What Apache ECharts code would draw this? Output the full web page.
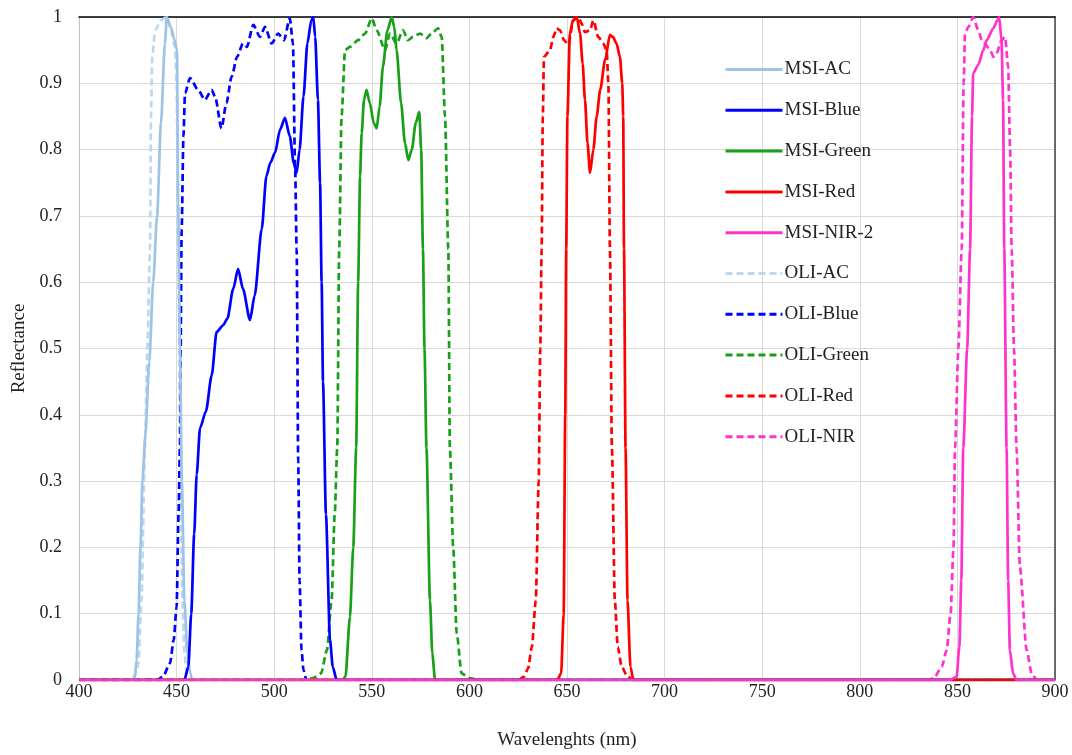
<!DOCTYPE html>
<html>
<head>
<meta charset="utf-8">
<script src="https://cdn.jsdelivr.net/npm/echarts@6/dist/echarts.min.js"></script>
<style>html,body{margin:0;padding:0;background:#fff}#c{width:1072px;height:755px}</style>
</head>
<body>
<div id="c"></div>
<script>
// Tick settings
const xTicks = [400, 450, 500, 550, 600, 650, 700, 750, 800, 850, 900];
const yTicks = [0, 0.1, 0.2, 0.3, 0.4, 0.5, 0.6, 0.7, 0.8, 0.9, 1];

// [wavelength nm, relative response]
const msiAC = [[400,0],[428.5,0],[429.5,0.03],[430.5,0.1],[431.5,0.2],[432.5,0.3],[434,0.37],[436,0.48],[438,0.6],[440,0.7],[442,0.84],[444,0.96],[445,1.0],[447,0.985],[449,0.965],[450.2,0.95],[450.8,0.72],[451.7,0.5],[452.7,0.3],[454,0.12],[455.5,0.04],[457,0.01],[458,0],[900,0]];
const msiBlue = [[400,0],[454,0],[456,0.02],[457.5,0.1],[459,0.22],[460.3,0.31],[462,0.38],[465,0.405],[468,0.46],[470.5,0.525],[473.8,0.535],[476,0.545],[479,0.59],[481.5,0.62],[484,0.59],[487.6,0.543],[490,0.58],[493.6,0.68],[496,0.76],[498,0.78],[500.4,0.795],[503,0.83],[505.5,0.848],[508,0.82],[510,0.78],[511.5,0.765],[513,0.8],[515,0.88],[517,0.96],[519,0.995],[520,1.0],[521,0.97],[522.4,0.875],[523.5,0.75],[524.3,0.6],[525,0.45],[526.5,0.25],[528.6,0.06],[530,0.02],[532,0],[900,0]];
const msiGreen = [[400,0],[535,0],[536.5,0.005],[538.8,0.095],[540.5,0.2],[542,0.35],[543,0.6],[544,0.76],[544.8,0.825],[546,0.875],[547.3,0.89],[549,0.87],[551,0.84],[552.5,0.832],[554,0.865],[555.7,0.925],[558,0.98],[560.2,1.0],[561.5,0.985],[562.7,0.95],[565,0.87],[567,0.81],[568.7,0.784],[570.5,0.8],[572.5,0.84],[574.3,0.857],[575.3,0.8],[576.2,0.65],[577,0.5],[578,0.35],[579.8,0.12],[581,0.04],[582.4,0],[900,0]];
const msiRed = [[400,0],[645,0],[647,0.01],[648.3,0.1],[649.1,0.4],[649.6,0.65],[650.2,0.85],[651.5,0.975],[653,0.995],[655,1.0],[656.7,0.975],[658,0.93],[659.2,0.875],[660.5,0.81],[661.8,0.765],[663.5,0.8],[665.2,0.85],[667,0.89],[669.5,0.935],[672,0.973],[673.5,0.97],[675.4,0.96],[677.1,0.94],[678.3,0.9],[678.8,0.85],[679.2,0.65],[680,0.35],[681,0.12],[682.5,0.02],[684,0],[900,0]];
const msiNir2 = [[400,0],[846,0],[849.6,0.005],[851,0.05],[852,0.15],[853,0.35],[855,0.5],[856.5,0.65],[857.5,0.85],[858.1,0.915],[860.7,0.928],[863.3,0.95],[865,0.965],[868.4,0.983],[870.5,0.995],[871.4,1.0],[872.6,0.965],[873.4,0.875],[874,0.65],[875.2,0.35],[876,0.15],[876.9,0.045],[878.5,0.01],[880.3,0],[900,0]];
const oliAC = [[400,0],[427,0],[429,0.01],[430.4,0.025],[432,0.12],[433.8,0.35],[435,0.5],[436.4,0.65],[436.9,0.85],[437.5,0.94],[439,0.98],[442,0.995],[445,1.0],[447,0.98],[449.2,0.955],[450,0.9],[450.8,0.65],[451.8,0.35],[453,0.12],[454,0.04],[455.5,0],[900,0]];
const oliBlue = [[400,0],[440,0],[443,0.005],[446.6,0.025],[448.5,0.06],[450,0.11],[451,0.25],[451.7,0.35],[452.6,0.68],[453.5,0.82],[454.3,0.885],[456.9,0.908],[461,0.89],[464.5,0.875],[467.9,0.89],[469.7,0.88],[473,0.832],[475.5,0.87],[478.2,0.91],[481,0.94],[484,0.96],[486,0.955],[489.3,0.988],[492.7,0.97],[495.3,0.985],[498.7,0.96],[502,0.975],[505,0.965],[508,0.998],[509.6,0.96],[510.7,0.774],[511.5,0.65],[512.3,0.33],[513,0.15],[514,0.045],[515,0.015],[516.5,0],[900,0]];
const oliGreen = [[400,0],[515,0],[520,0.003],[524,0.01],[527,0.045],[529.4,0.12],[531,0.25],[532.3,0.35],[533.3,0.65],[534.5,0.85],[536.3,0.95],[538.8,0.955],[543,0.965],[546.5,0.975],[550,0.998],[552.5,0.98],[556.8,0.95],[559.3,0.975],[562.7,0.96],[566,0.98],[568.5,0.965],[571.2,0.97],[574.7,0.975],[578,0.968],[580.6,0.975],[584,0.983],[585.8,0.97],[587.5,0.85],[589.2,0.65],[590,0.35],[591.7,0.2],[593.5,0.07],[596,0.01],[600,0.003],[605,0],[900,0]];
const oliRed = [[400,0],[625,0],[628,0.005],[630,0.017],[632,0.05],[634,0.12],[635.5,0.3],[636.3,0.5],[637,0.65],[637.6,0.85],[638.2,0.94],[641.3,0.95],[643,0.97],[644.7,0.983],[646.4,0.98],[648.5,0.965],[650.7,0.958],[653.2,0.995],[655.8,1.0],[657.5,0.99],[659.2,0.977],[661.8,0.98],[663.5,0.995],[666,0.97],[668.6,0.96],[670.3,0.95],[671.2,0.9],[672,0.65],[673,0.35],[674.5,0.12],[676,0.05],[678,0.02],[681,0.005],[684,0],[900,0]];
const oliNir = [[400,0],[835,0],[838,0.003],[842,0.02],[844.5,0.045],[846.5,0.1],[848,0.2],[848.8,0.35],[850.5,0.5],[852.2,0.65],[853.2,0.9],[853.9,0.975],[855.6,0.985],[858.1,1.0],[860.7,0.98],[862.5,0.965],[864.1,0.96],[866.7,0.95],[868.5,0.94],[870,0.945],[872.6,0.965],[874.4,0.97],[876,0.925],[877,0.8],[877.8,0.65],[879,0.5],[880.3,0.35],[882,0.17],[885.5,0.045],[888,0.01],[890.6,0],[900,0]];

const seriesNames = ['MSI-AC','MSI-Blue','MSI-Green','MSI-Red','MSI-NIR-2','OLI-AC','OLI-Blue','OLI-Green','OLI-Red','OLI-NIR'];
const seriesData = [msiAC, msiBlue, msiGreen, msiRed, msiNir2, oliAC, oliBlue, oliGreen, oliRed, oliNir];
const seriesColors = ['#9DC3E6','#0000FF','#18A018','#FF0000','#FF33CC','#BDD7EE','#0000FF','#18A018','#FF0000','#FF33CC'];
const seriesDashed = [false,false,false,false,false,true,true,true,true,true];

const serif = 'Liberation Serif, Times New Roman, serif';
const chart = echarts.init(document.getElementById('c'), null, {renderer: 'canvas'});

const series = seriesNames.map((name, i) => ({
  name,
  type: 'line',
  data: seriesData[i],
  xAxisIndex: 0,
  yAxisIndex: 0,
  showSymbol: false,
  symbol: 'none',
  smooth: 0.25,
  smoothMonotone: 'x',
  animation: false,
  z: seriesDashed[i] ? 2 : 3,
  color: seriesColors[i],
  lineStyle: {
    color: seriesColors[i],
    width: 2.7,
    type: seriesDashed[i] ? [7, 4] : 'solid'
  }
}));

chart.setOption({
  backgroundColor: '#fff',
  animation: false,
  grid: {left: 79, right: 17, top: 17, bottom: 75, containLabel: false},
  legend: {
    orient: 'vertical',
    left: 724,
    top: 60,
    padding: 0,
    itemWidth: 57,
    itemHeight: 14,
    itemGap: 21.8,
    itemStyle: {opacity: 0},
    lineStyle: {width: 3},
    textStyle: {fontFamily: serif, fontSize: 19, color: '#222', padding: [0, 0, 0, -3]},
    data: seriesNames
  },
  xAxis: [{
    type: 'value',
    min: xTicks[0],
    max: xTicks[xTicks.length - 1],
    interval: 50,
    name: 'Wavelenghts (nm)',
    nameLocation: 'middle',
    nameGap: 51,
    nameTextStyle: {fontFamily: serif, fontSize: 19, color: '#222'},
    axisLine: {show: true, lineStyle: {color: '#BFBFBF'}},
    axisTick: {show: false},
    axisLabel: {fontFamily: serif, fontSize: 18, color: '#222', margin: 3},
    splitLine: {show: true, lineStyle: {color: '#D9D9D9', width: 1}}
  }, {
    type: 'value',
    position: 'top',
    min: xTicks[0],
    max: xTicks[xTicks.length - 1],
    axisLine: {show: true, onZero: false, lineStyle: {color: '#000', width: 1.5}},
    axisTick: {show: false},
    axisLabel: {show: false},
    splitLine: {show: false}
  }],
  yAxis: [{
    type: 'value',
    min: yTicks[0],
    max: yTicks[yTicks.length - 1],
    interval: 0.1,
    name: 'Reflectance',
    nameLocation: 'middle',
    nameGap: 48,
    nameTextStyle: {fontFamily: serif, fontSize: 19, color: '#222'},
    axisLine: {show: true, lineStyle: {color: '#BFBFBF'}},
    axisTick: {show: false},
    axisLabel: {fontFamily: serif, fontSize: 18, color: '#222', margin: 17,
      formatter: v => String(Math.round(v * 10) / 10)},
    splitLine: {show: true, lineStyle: {color: '#D9D9D9', width: 1}}
  }, {
    type: 'value',
    position: 'right',
    min: yTicks[0],
    max: yTicks[yTicks.length - 1],
    axisLine: {show: true, onZero: false, lineStyle: {color: '#404040', width: 1.5}},
    axisTick: {show: false},
    axisLabel: {show: false},
    splitLine: {show: false}
  }],
  series
});
</script>
</body>
</html>
